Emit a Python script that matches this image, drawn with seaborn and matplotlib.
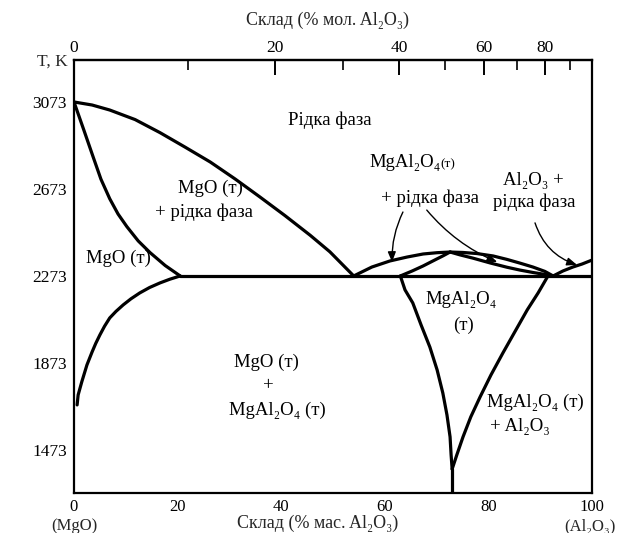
import numpy as np
import pandas as pd
import matplotlib
matplotlib.use("Agg")
import matplotlib.pyplot as plt
import seaborn as sns

sns.set_theme(style="white")
plt.rcParams["font.family"] = ["Liberation Serif", "DejaVu Serif"]

# ---------------- data (wt.% Al2O3, T in K) ----------------
liq_mgo_wt = [0, 3.5, 6.9, 11.8, 16.6, 21.4, 26.3, 31.1, 35.9, 40.7, 45.6, 49.4, 54.0]
liq_mgo_T = [3073, 3059, 3036, 2992, 2932, 2866, 2797, 2719, 2636, 2551, 2460, 2384, 2273]

sol_mgo_wt = [0, 1.9, 3.7, 5.2, 6.9, 8.5, 10.2, 12.4, 14.7, 17.6, 20.5]
sol_mgo_T = [3073, 2944, 2820, 2718, 2628, 2558, 2500, 2434, 2380, 2321, 2273]

solv_mgo_wt = [20.5, 18.5, 16.6, 14.6, 12.7, 11.0, 9.5, 8.1, 6.9, 5.9, 5.0, 4.2, 3.5, 2.5, 1.5, 0.8, 0.6]
solv_mgo_T = [2273, 2258, 2241, 2220, 2195, 2168, 2140, 2110, 2080, 2042, 2002, 1963, 1924, 1864, 1786, 1726, 1680]

eut_wt = [20.5, 100]
eut_T = [2273, 2273]

liq_sp_wt = [54.0, 57.5, 61.0, 64.3, 67.4, 70.1, 72.6, 75.1, 77.8, 80.9, 83.6, 86.1, 88.6, 90.9, 92.5]
liq_sp_T = [2273, 2314, 2342, 2360, 2374, 2380, 2383, 2381, 2376, 2365, 2349, 2332, 2314, 2294, 2273]

sol_sp_l_wt = [63.0, 65.3, 67.4, 69.7, 71.2, 72.6]
sol_sp_l_T = [2273, 2296, 2319, 2347, 2365, 2383]

sol_sp_r_wt = [72.6, 74.5, 77.0, 80.3, 83.6, 86.1, 88.6, 90.9, 92.5]
sol_sp_r_T = [2383, 2370, 2355, 2333, 2313, 2300, 2289, 2280, 2273]

liq_al_wt = [92.5, 94.4, 96.3, 98.1, 100]
liq_al_T = [2273, 2296, 2314, 2328, 2346]

solv_sp_l_wt = [63.0, 63.9, 65.4, 67.0, 68.7, 70.1, 71.2, 72.0, 72.6, 72.8, 73.0]
solv_sp_l_T = [2273, 2209, 2149, 2048, 1946, 1841, 1735, 1634, 1533, 1450, 1385]

solv_sp_r_wt = [91.5, 89.6, 87.5, 85.1, 82.8, 80.5, 78.4, 76.6, 75.1, 73.9, 73.0]
solv_sp_r_T = [2273, 2195, 2117, 2016, 1919, 1818, 1717, 1625, 1533, 1450, 1385]

cusp_wt = [73.0, 73.0]
cusp_T = [1385, 1275]

curves = {
    "liq_mgo": (liq_mgo_wt, liq_mgo_T),
    "sol_mgo": (sol_mgo_wt, sol_mgo_T),
    "solv_mgo": (solv_mgo_wt, solv_mgo_T),
    "eut": (eut_wt, eut_T),
    "liq_sp": (liq_sp_wt, liq_sp_T),
    "sol_sp_l": (sol_sp_l_wt, sol_sp_l_T),
    "sol_sp_r": (sol_sp_r_wt, sol_sp_r_T),
    "liq_al": (liq_al_wt, liq_al_T),
    "solv_sp_l": (solv_sp_l_wt, solv_sp_l_T),
    "solv_sp_r": (solv_sp_r_wt, solv_sp_r_T),
    "cusp": (cusp_wt, cusp_T),
}
frames = []
for name, (xs, ys) in curves.items():
    frames.append(pd.DataFrame({"wt": xs, "T": ys, "curve": name}))
df = pd.concat(frames, ignore_index=True)

bottom_ticks = [0, 20, 40, 60, 80, 100]
bottom_minor = [10, 30, 50, 70, 90]
top_ticks = [0, 20, 40, 60, 80]
top_minor = [10, 30, 50, 70, 90]
y_ticks = [3073, 2673, 2273, 1873, 1473]
y_minor = [2873, 2473, 2073, 1673]

# ---------------- figure ----------------
fig = plt.figure(figsize=(6.18, 5.33), dpi=100)
ax = fig.add_axes([74 / 618, 40 / 533, (592 - 74) / 618, (493 - 60) / 533])
ax.set_facecolor("white")

sns.lineplot(data=df, x="wt", y="T", units="curve", estimator=None, sort=False,
             color="black", lw=2.3, ax=ax, legend=False)

ax.set_xlim(0, 100)
ax.set_ylim(1275, 3266)
ax.set_xlabel("")
ax.set_ylabel("")

for s in ax.spines.values():
    s.set_visible(True)
    s.set_color("black")
    s.set_linewidth(1.6)

ax.set_xticks(bottom_ticks)
ax.set_xticks(bottom_minor, minor=True)
ax.set_xticklabels([str(t) for t in bottom_ticks])
ax.set_yticks(y_ticks)
ax.set_yticks(y_minor, minor=True)
ax.set_yticklabels([str(t) for t in y_ticks])
ax.tick_params(axis="both", which="major", direction="in", length=11, width=1.4,
               labelsize=12.5, colors="black", pad=5)
ax.tick_params(axis="both", which="minor", direction="in", length=6, width=1.2, colors="black")
ax.tick_params(axis="x", which="major", pad=4, labelsize=12)


def wt2mol(w):
    w = np.asarray(w, dtype=float)
    with np.errstate(divide="ignore", invalid="ignore"):
        a = w / 101.96
        m = (100 - w) / 40.30
        return 100 * a / (a + m)


def mol2wt(m):
    m = np.asarray(m, dtype=float)
    with np.errstate(divide="ignore", invalid="ignore"):
        a = m * 101.96
        b = (100 - m) * 40.30
        return 100 * a / (a + b)


sec = ax.secondary_xaxis("top", functions=(wt2mol, mol2wt))
sec.set_xticks(top_ticks)
sec.set_xticks(top_minor, minor=True)
sec.set_xticklabels([str(t) for t in top_ticks])
sec.tick_params(axis="x", which="major", direction="in", length=11, width=1.4,
                labelsize=12.5, colors="black", pad=3)
sec.tick_params(axis="x", which="minor", direction="in", length=7, width=1.2, colors="black")
sec.spines["top"].set_linewidth(1.6)

# ---------------- texts ----------------
fs = 13.5
txt = dict(ha="center", va="center", fontsize=fs, color="black")
ax.text(49.4, 2990, "Рідка фаза", **txt)
ax.text(26.3, 2678, "MgO (т)", **txt)
ax.text(25.1, 2567, "+ рідка фаза", **txt)
ax.text(8.5, 2356, "MgO (т)", **txt)
ax.text(37.1, 1878, "MgO (т)", **txt)
ax.text(37.5, 1767, "+", **txt)
ax.text(39.2, 1657, "MgAl₂O₄ (т)", **txt)
ax.text(64.0, 2793, "MgAl₂O₄", **txt)
ax.text(72.2, 2786, "(т)", ha="center", va="center", fontsize=9.5, color="black")
ax.text(68.7, 2632, "+ рідка фаза", **txt)
ax.text(88.6, 2714, "Al₂O₃ +", **txt)
ax.text(88.8, 2613, "рідка фаза", **txt)
ax.text(74.7, 2163, "MgAl₂O₄", **txt)
ax.text(75.1, 2048, "(т)", **txt)
ax.text(89.0, 1694, "MgAl₂O₄ (т)", **txt)
ax.text(86.1, 1579, "+ Al₂O₃", **txt)

arrow = dict(arrowstyle="-|>,head_length=0.5,head_width=0.2", color="black", lw=1.0,
             shrinkA=0, shrinkB=0)
ax.annotate("", xy=(61.4, 2337), xytext=(63.5, 2567),
            arrowprops=dict(connectionstyle="arc3,rad=0.12", **arrow))
ax.annotate("", xy=(81.7, 2337), xytext=(68.1, 2576),
            arrowprops=dict(connectionstyle="arc3,rad=0.12", **arrow))
ax.annotate("", xy=(97.1, 2324), xytext=(89.0, 2517),
            arrowprops=dict(connectionstyle="arc3,rad=0.25", **arrow))

fig.text(68 / 618, 1 - 62 / 533, "T, K", ha="right", va="center", fontsize=12.5)
fig.text(327 / 618, 1 - 20 / 533, "Склад (% мол. Al₂O₃)", ha="center", va="center", fontsize=13)
fig.text(318 / 618, 1 - 523 / 533, "Склад (% мас. Al₂O₃)", ha="center", va="center", fontsize=13)
fig.text(74 / 618, 1 - 526 / 533, "(MgO)", ha="center", va="center", fontsize=12)
fig.text(616 / 618, 1 - 526 / 533, "(Al₂O₃)", ha="right", va="center", fontsize=12)

fig.savefig("out.png", dpi=100, facecolor="white")
